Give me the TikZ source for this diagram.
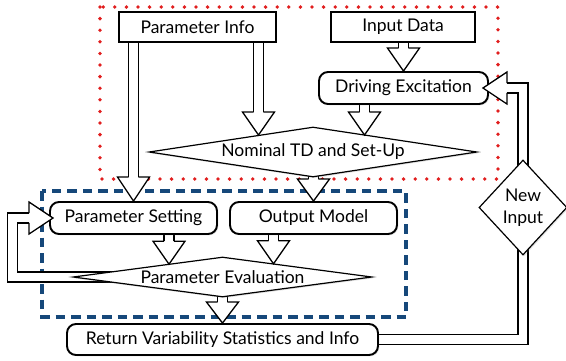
\documentclass[tikz,border=0pt]{standalone}
\usepackage{fontspec}
\setmainfont{Lato}
\usetikzlibrary{shapes.geometric,calc,shadows}
\pgfdeclarelayer{frames}
\pgfdeclarelayer{shafts}
\pgfdeclarelayer{heads}
\pgfsetlayers{frames,shafts,main,heads}
\definecolor{dotred}{RGB}{225,30,30}
\definecolor{dashblue}{RGB}{22,72,122}
\newcommand\fathead[3]{\begin{scope}[shift={(#1)},rotate=#2]\draw[headline] (-#3,4.9) -- (-#3,16) -- (0,0) -- (-#3,-16) -- (-#3,-4.9);\end{scope}}
\tikzset{
  lbl/.style={font=\fontsize{17.5}{22}\selectfont},
  shd/.style={drop shadow={opacity=0.22, shadow xshift=1.3pt, shadow yshift=-1.3pt}},
  sqbox/.style={draw, line width=1.9pt, fill=white, inner sep=0pt, lbl, shd},
  rbox/.style={sqbox, rounded corners=9pt},
  dia/.style={draw, diamond, line width=1.2pt, fill=white, inner sep=0pt, lbl, shd},
  shaft/.style={draw, line width=1.3pt, double=white, double distance=8.5pt},
  headline/.style={draw, line width=1.3pt, fill=white, line join=miter}
}
\begin{document}
\begin{tikzpicture}[x=1pt, y=-1pt]
\useasboundingbox (0,0) rectangle (566,360);
% nodes
\node[sqbox, minimum width=157pt, minimum height=30pt] (pinfo) at (197.5,27) {Parameter Info};
\node[sqbox, minimum width=144pt, minimum height=30pt] (idata) at (403,27) {Input Data};
\node[rbox, minimum width=169pt, minimum height=32pt] (drive) at (403.5,88) {Driving Excitation};
\node[dia, aspect=6.56, minimum width=328pt, minimum height=50pt] (nom) at (313,152) {Nominal TD and Set-Up};
\node[rbox, minimum width=167pt, minimum height=32pt] (pset) at (133.5,218) {Parameter Setting};
\node[rbox, minimum width=167pt, minimum height=32pt] (omod) at (313.5,218) {Output Model};
\node[dia, aspect=7.5, minimum width=299pt, minimum height=40pt] (peval) at (222.5,277) {Parameter Evaluation};
\node[rbox, minimum width=311pt, minimum height=31pt] (ret) at (222.5,339.5) {Return Variability Statistics and Info};
\node[dia, aspect=0.93, minimum width=88pt, minimum height=95pt, align=center] (newin) at (523,207.5) {New\\Input};
% frames
\begin{pgfonlayer}{frames}
\draw[dotred, line width=3.8pt, line cap=round, dash pattern=on 0pt off 11.6pt] (100,7) rectangle (498,179);
\draw[dashblue, line width=3.6pt, dash pattern=on 9.5pt off 6pt] (42,191) rectangle (406,317);
\end{pgfonlayer}
% tips
\coordinate (t1) at (pset.north);
\coordinate (t2) at (258.5,135);
\coordinate (t3) at (drive.north);
\coordinate (t4) at (364.5,135);
\coordinate (t5) at (omod.north);
\coordinate (t6) at (169,264.2);
\coordinate (t7) at (273.5,263.8);
\coordinate (t8) at (ret.north);
\coordinate (t9) at ($(pset.west)+(4,0)$);
\coordinate (t11) at ($(drive.east)+(-6,0)$);
\coordinate (lp) at (12.5,0);
\begin{pgfonlayer}{shafts}
\draw[shaft] (pinfo.center -| t1) -- ($(t1)+(0,-24)$);
\draw[shaft] (pinfo.center -| t2) -- ($(t2)+(0,-23)$);
\draw[shaft] (idata.center -| t3) -- ($(t3)+(0,-23)$);
\draw[shaft] (drive.center -| t4) -- ($(t4)+(0,-23)$);
\draw[shaft] (nom.center -| t5) -- ($(t5)+(0,-22)$);
\draw[shaft] (pset.center -| t6) -- ($(t6)+(0,-23)$);
\draw[shaft] (omod.center -| t7) -- ($(t7)+(0,-23)$);
\draw[shaft] (peval.center -| t8) -- ($(t8)+(0,-21)$);
\draw[shaft] (peval.center) -- (lp |- peval.center) -- (lp |- t9) -- ($(t9)+(-24,0)$);
\draw[shaft] (ret.center) -| (newin.center);
\draw[shaft] (newin.center) |- ($(t11)+(24,0)$);
\end{pgfonlayer}
\begin{pgfonlayer}{heads}
\fathead{t1}{-90}{24}
\fathead{t2}{-90}{23}
\fathead{t3}{-90}{23}
\fathead{t4}{-90}{23}
\fathead{t5}{-90}{22}
\fathead{t6}{-90}{23}
\fathead{t7}{-90}{23}
\fathead{t8}{-90}{21}
\fathead{t9}{0}{24}
\fathead{t11}{180}{24}
\end{pgfonlayer}
\end{tikzpicture}
\end{document}
